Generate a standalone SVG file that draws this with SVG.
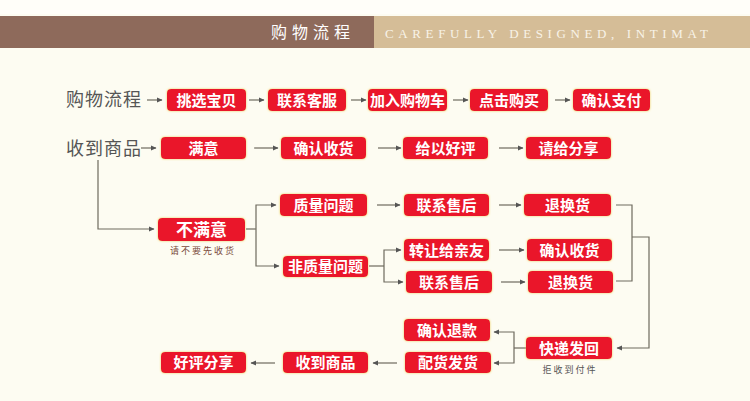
<svg xmlns="http://www.w3.org/2000/svg" width="750" height="401" viewBox="0 0 750 401">
<defs>
<marker id="ah" markerWidth="6" markerHeight="6" refX="5" refY="3" orient="auto" markerUnits="userSpaceOnUse">
<path d="M0,0.5 L5.5,3 L0,5.5 Z" fill="#555"/>
</marker>
<filter id="glow" x="-10%" y="-20%" width="120%" height="140%">
<feDropShadow dx="0" dy="0" stdDeviation="0.8" flood-color="#e8c84a" flood-opacity="0.9"/>
</filter>
</defs>
<style>
.bx{fill:#EA172C;filter:url(#glow);}
.bt{fill:#fff;font-family:"Noto Sans CJK SC","Noto Sans",sans-serif;font-weight:bold;font-size:15px;text-anchor:middle;}
.lb{fill:#555;font-family:"Noto Sans CJK SC",sans-serif;font-size:18px;letter-spacing:1px;}
.cn{fill:none;stroke:#6e6a5e;stroke-width:1.2;}
.ar{marker-end:url(#ah);}
.sub{font-family:"Noto Sans CJK SC",sans-serif;font-size:9px;letter-spacing:2px;text-anchor:middle;}
</style>
<rect width="750" height="401" fill="#FDFCF2"/>
<rect width="750" height="14" fill="#FFFEF9"/>
<g id="header">
<rect x="0" y="16" width="374" height="32" fill="#8E6A5B"/>
<rect x="374" y="16" width="376" height="32" fill="#D5BD97"/>
<text x="271" y="38" fill="#fff" font-family="Noto Sans CJK SC,sans-serif" font-size="16" textLength="79" lengthAdjust="spacing">购物流程</text>
<text x="385" y="37.5" fill="#F8F3E8" font-family="Liberation Serif,serif" font-size="13" textLength="323" lengthAdjust="spacing">CAREFULLY DESIGNED, INTIMAT</text>
</g>
<g id="labels">
<text class="lb" x="66" y="106">购物流程</text>
<text class="lb" x="66" y="155">收到商品</text>
</g>
<g id="connectors">
<line class="cn ar" x1="147" y1="100" x2="162" y2="100"/>
<line class="cn ar" x1="249" y1="100" x2="264" y2="100"/>
<line class="cn ar" x1="351" y1="100" x2="366" y2="100"/>
<line class="cn ar" x1="453" y1="100" x2="468" y2="100"/>
<line class="cn ar" x1="555" y1="100" x2="570" y2="100"/>
<line class="cn ar" x1="141" y1="148" x2="156" y2="148"/>
<line class="cn ar" x1="254" y1="148" x2="278" y2="148"/>
<line class="cn ar" x1="378" y1="148" x2="401" y2="148"/>
<line class="cn ar" x1="499" y1="148" x2="523" y2="148"/>
<polyline class="cn ar" points="98,160 98,229 154,229"/>
<line class="cn" x1="246" y1="229" x2="256" y2="229"/>
<polyline class="cn ar" points="256,229 256,205 276,205"/>
<polyline class="cn ar" points="256,229 256,266 279,266"/>
<line class="cn ar" x1="377" y1="205" x2="400" y2="205"/>
<line class="cn ar" x1="499" y1="205" x2="521" y2="205"/>
<line class="cn" x1="369" y1="266" x2="384" y2="266"/>
<polyline class="cn ar" points="384,266 384,250 401,250"/>
<polyline class="cn ar" points="384,266 384,282 403,282"/>
<line class="cn ar" x1="499" y1="250" x2="524" y2="250"/>
<line class="cn ar" x1="501" y1="282" x2="525" y2="282"/>
<polyline class="cn" points="616,205 632,205 632,281 616,281"/>
<polyline class="cn ar" points="632,237 649,237 649,348 617,348"/>
<line class="cn" x1="526" y1="348" x2="514" y2="348"/>
<polyline class="cn ar" points="514,348 514,332 494,332"/>
<polyline class="cn ar" points="514,348 514,363 494,363"/>
<line class="cn ar" x1="397" y1="363" x2="373" y2="363"/>
<line class="cn ar" x1="275" y1="363" x2="251" y2="363"/>
</g>
<g id="n-tiaoxuan"><rect class="bx" x="167" y="89" width="79" height="22" rx="4"/><text class="bt" x="206.5" y="105.5">挑选宝贝</text></g>
<g id="n-lianxikefu"><rect class="bx" x="268" y="89" width="78" height="22" rx="4"/><text class="bt" x="307" y="105.5">联系客服</text></g>
<g id="n-jiaru"><rect class="bx" x="368" y="89" width="79" height="22" rx="4"/><text class="bt" x="407.5" y="105.5">加入购物车</text></g>
<g id="n-dianji"><rect class="bx" x="470" y="89" width="78" height="22" rx="4"/><text class="bt" x="509" y="105.5">点击购买</text></g>
<g id="n-zhifu"><rect class="bx" x="573" y="89" width="77" height="22" rx="4"/><text class="bt" x="611.5" y="105.5">确认支付</text></g>
<g id="n-manyi"><rect class="bx" x="161" y="137" width="85" height="22" rx="4"/><text class="bt" x="203.5" y="153.5">满意</text></g>
<g id="n-queren1"><rect class="bx" x="281" y="137" width="85" height="22" rx="4"/><text class="bt" x="323.5" y="153.5">确认收货</text></g>
<g id="n-geiyi"><rect class="bx" x="403" y="137" width="85" height="22" rx="4"/><text class="bt" x="445.5" y="153.5">给以好评</text></g>
<g id="n-qinggei"><rect class="bx" x="526" y="137" width="85" height="22" rx="4"/><text class="bt" x="568.5" y="153.5">请给分享</text></g>
<g id="n-bumanyi"><rect class="bx" x="158" y="218" width="87" height="23" rx="4"/><text class="bt" x="201.5" y="235.5" style="font-size:17px">不满意</text><text class="sub" x="203" y="254" fill="#7a4b3c">请不要先收货</text></g>
<g id="n-zhiliang"><rect class="bx" x="280" y="194" width="87" height="22" rx="4"/><text class="bt" x="323.5" y="210.5">质量问题</text></g>
<g id="n-feizhiliang"><rect class="bx" x="283" y="256" width="85" height="21" rx="4"/><text class="bt" x="325.5" y="272">非质量问题</text></g>
<g id="n-shouhou1"><rect class="bx" x="404" y="194" width="85" height="22" rx="4"/><text class="bt" x="446.5" y="210.5">联系售后</text></g>
<g id="n-tuihuan1"><rect class="bx" x="524" y="194" width="87" height="22" rx="4"/><text class="bt" x="567.5" y="210.5">退换货</text></g>
<g id="n-zhuanrang"><rect class="bx" x="404" y="239" width="85" height="22" rx="4"/><text class="bt" x="446.5" y="255.5">转让给亲友</text></g>
<g id="n-queren2"><rect class="bx" x="527" y="239" width="85" height="22" rx="4"/><text class="bt" x="569.5" y="255.5">确认收货</text></g>
<g id="n-shouhou2"><rect class="bx" x="406" y="271" width="86" height="22" rx="4"/><text class="bt" x="449" y="287.5">联系售后</text></g>
<g id="n-tuihuan2"><rect class="bx" x="528" y="271" width="85" height="22" rx="4"/><text class="bt" x="570.5" y="287.5">退换货</text></g>
<g id="n-kuaidi"><rect class="bx" x="526" y="337" width="86" height="22" rx="4"/><text class="bt" x="569" y="353.5">快递发回</text><text class="sub" x="570" y="373" fill="#555">拒收到付件</text></g>
<g id="n-tuikuan"><rect class="bx" x="404" y="319" width="86" height="22" rx="4"/><text class="bt" x="447" y="335.5">确认退款</text></g>
<g id="n-peihuo"><rect class="bx" x="405" y="352" width="86" height="21" rx="4"/><text class="bt" x="448" y="368">配货发货</text></g>
<g id="n-shoudao"><rect class="bx" x="283" y="352" width="85" height="21" rx="4"/><text class="bt" x="325.5" y="368">收到商品</text></g>
<g id="n-haoping"><rect class="bx" x="161" y="352" width="85" height="21" rx="4"/><text class="bt" x="203.5" y="368">好评分享</text></g>
</svg>
